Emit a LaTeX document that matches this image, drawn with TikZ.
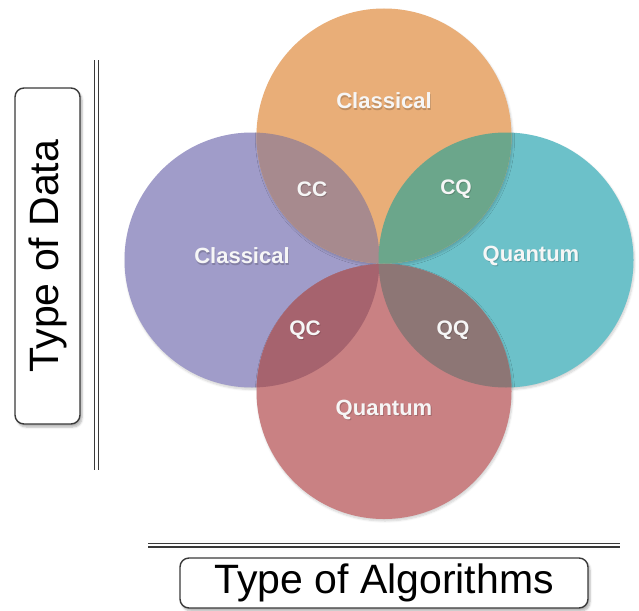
\documentclass[tikz,border=0pt]{standalone}
\usepackage{fontspec}
\setmainfont{Liberation Sans}
\usetikzlibrary{shadows.blur}

\definecolor{cPurple}{HTML}{A09CC9}
\definecolor{cOrange}{HTML}{E9AE78}
\definecolor{cTeal}{HTML}{6CC1C9}
\definecolor{cRed}{HTML}{C98183}
\definecolor{cCC}{HTML}{A78A8E}
\definecolor{cCQ}{HTML}{6BA68B}
\definecolor{cQC}{HTML}{A6636E}
\definecolor{cQQ}{HTML}{8D7675}
\definecolor{cLine}{HTML}{3A3A3A}
\definecolor{cText}{HTML}{F6F6F6}

\tikzset{
  venn/.style={circle, minimum size=255pt, inner sep=0pt, draw=none,
    blur shadow={shadow xshift=1pt, shadow yshift=-2pt, shadow blur steps=6, shadow opacity=18}},
  setlabel/.style={text=cText, font=\fontsize{22}{24}\selectfont\bfseries, inner sep=0pt},
  pairlabel/.style={text=cText, font=\fontsize{21}{23}\selectfont\bfseries, inner sep=0pt},
  labelshade/.style={text=black, text opacity=0.18, xshift=0.8pt, yshift=-1.2pt},
  axisbox/.style={draw=cLine, line width=1.4pt, rounded corners=9pt, fill=white,
    blur shadow={shadow xshift=2pt, shadow yshift=-3pt, shadow blur steps=5, shadow opacity=30}},
  axistext/.style={font=\fontsize{41}{44}\selectfont, text=black},
  axisline/.style={draw=cLine, line width=1.1pt, double=white, double distance=2.8pt}
}

% centres of the four sets and their common radius
\def\rad{127.5pt}

\begin{document}
\begin{tikzpicture}[x=1pt, y=-1pt]
  \useasboundingbox (0,0) rectangle (639,610);

  \coordinate (cL) at (252,260);
  \coordinate (cR) at (506,260);
  \coordinate (cT) at (384,136);
  \coordinate (cB) at (384,391.5);

  % the four sets
  \node[venn, fill=cPurple] (left)   at (cL) {};
  \node[venn, fill=cTeal]   (right)  at (cR) {};
  \node[venn, fill=cRed]    (bottom) at (cB) {};
  \node[venn, fill=cOrange] (top)    at (cT) {};

  % pairwise overlaps
  \begin{scope}
    \clip (cT) circle (\rad);
    \fill[cCC] (cL) circle (\rad);
    \fill[cCQ] (cR) circle (\rad);
  \end{scope}
  \begin{scope}
    \clip (cB) circle (\rad);
    \fill[cQC] (cL) circle (\rad);
    \fill[cQQ] (cR) circle (\rad);
  \end{scope}

  % set labels, each over a faint drop shade
  \foreach \p/\t/\n in {{(384,101)}/Classical/topLbl, {(242,256)}/Classical/leftLbl,
                        {(531,256)}/Quantum/rightLbl, {(384,410)}/Quantum/bottomLbl} {
    \node[setlabel, labelshade] at \p {\t};
    \node[setlabel] (\n) at \p {\t};
  }

  % overlap labels
  \foreach \p/\t/\n in {{(312,189)}/CC/cc, {(456,189)}/CQ/cq,
                        {(305,330)}/QC/qc, {(453,330)}/QQ/qq} {
    \node[pairlabel, labelshade] at \p {\t};
    \node[pairlabel] (\n) at \p {\t};
  }

  % axes
  \coordinate (vTop) at (96.8,60);
  \coordinate (vBot) at (96.8,470);
  \coordinate (hLeft) at (148,545);
  \coordinate (hRight) at (620,545);
  \path[axisline] (vTop) -- (vBot);
  \path[axisline] (hLeft) -- (hRight);

  \node[axisbox, minimum width=65pt, minimum height=336pt, inner sep=0pt] (dataBox) at (47.5,256) {};
  \node[axistext, rotate=90] (dataTxt) at (dataBox.center) {Type of Data};

  \node[axisbox, minimum width=408pt, minimum height=50pt, inner sep=0pt] (algBox) at (384,583) {};
  \node[axistext] (algTxt) at (algBox.center) {Type of Algorithms};
\end{tikzpicture}
\end{document}
